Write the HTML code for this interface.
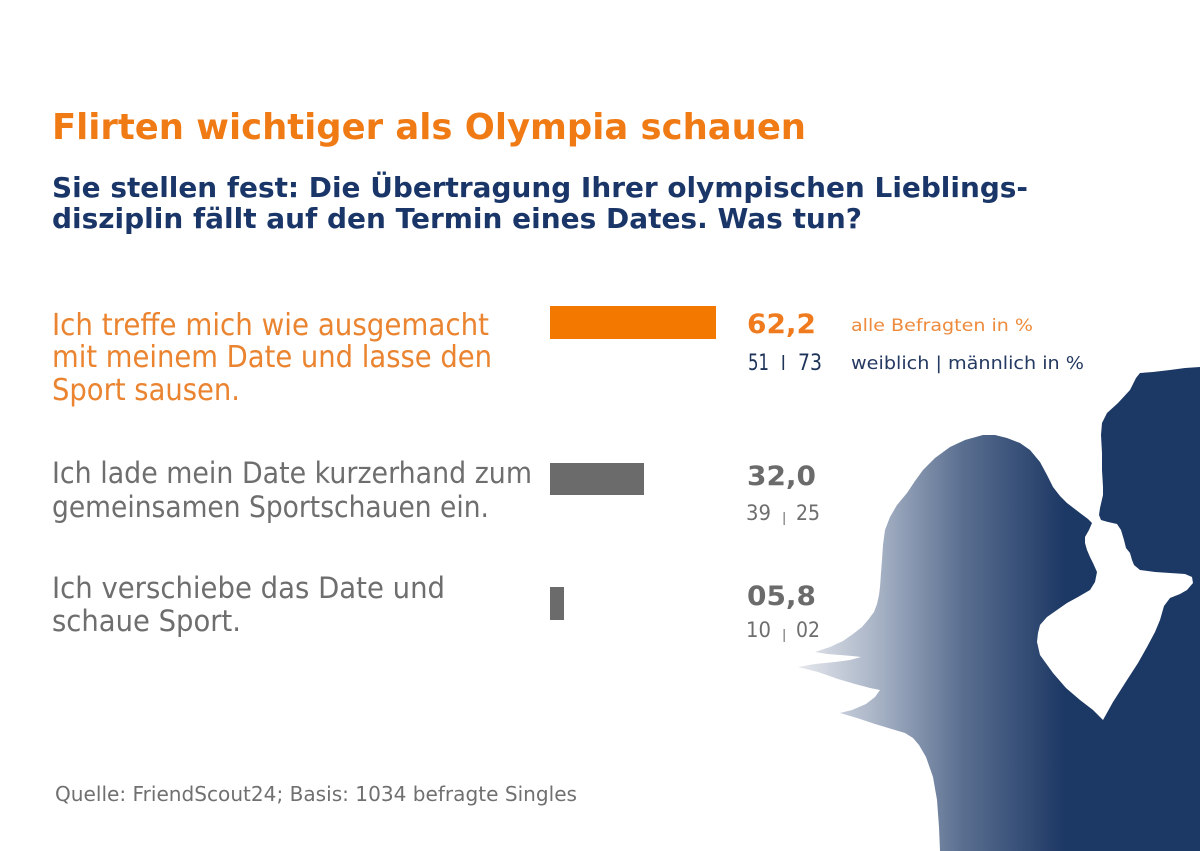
<!DOCTYPE html>
<html>
<head>
<meta charset="utf-8">
<style>
html,body{margin:0;padding:0;background:#fff;}
svg{display:block;}
text{font-family:"DejaVu Sans","Liberation Sans",sans-serif;}
</style>
</head>
<body>
<svg width="1200" height="851" viewBox="0 0 1200 851" xmlns="http://www.w3.org/2000/svg">
<defs>
<linearGradient id="g" gradientUnits="userSpaceOnUse" x1="795" y1="0" x2="1065" y2="0">
<stop offset="0" stop-color="#e8eaef"/>
<stop offset="0.3" stop-color="#a9b4c6"/>
<stop offset="0.62" stop-color="#5a6f90"/>
<stop offset="1" stop-color="#1c3864"/>
</linearGradient>
</defs>
<rect width="1200" height="851" fill="#ffffff"/>

<polygon fill="url(#g)" stroke-linejoin="round" points="983,435 995,435 1007,438 1020,443 1030,450 1040,462 1047,475 1053,487 1060,496 1067,503 1080,513 1088,519 1092,523 1089,530 1085,537 1085,543 1087,550 1090,557 1093,563 1097,572 1095,582 1090,590 1078,597 1067,603 1047,617 1040,625 1038,633 1037,642 1040,655 1053,673 1066,688 1080,700 1093,710 1103,720 1113,702 1127,680 1138,663 1147,647 1155,632 1160,620 1164,606 1170,598 1180,594 1187,590 1193,583 1192,577 1185,574 1170,573 1155,572 1140,570 1134,565 1132,560 1130,553 1126,548 1124,540 1121,530 1117,524 1108,522 1101,520 1099,515 1100,508 1103,495 1103,487 1102,470 1102,453 1101,435 1102,423 1107,413 1118,403 1130,390 1136,378 1140,373 1153,372 1170,370 1185,368 1200,367 1200,851 940,851 939,827 937,800 933,777 926,757 919,745 913,738 905,733 895,730 875,724 857,718 840,713 852,710 866,704 875,697 880,690 870,688 855,684 838,679 818,672 798,667 815,664 835,662 850,660 861,657 852,656 840,655 827,654 815,652 830,647 843,641 853,634 862,627 868,620 874,612 877,604 879,595 880,587 881,573 882,560 883,545 885,530 890,517 897,505 907,493 915,481 923,470 935,458 950,447 965,440"/>

<!-- Title -->
<text x="52" y="139" font-size="36" font-weight="bold" fill="#f07a14" textLength="754" lengthAdjust="spacingAndGlyphs">Flirten wichtiger als Olympia schauen</text>
<text x="52" y="197" font-size="27.5" font-weight="bold" fill="#1a3668" textLength="976" lengthAdjust="spacingAndGlyphs">Sie stellen fest: Die Übertragung Ihrer olympischen Lieblings-</text>
<text x="52" y="228" font-size="27.5" font-weight="bold" fill="#1a3668" textLength="810" lengthAdjust="spacingAndGlyphs">disziplin fällt auf den Termin eines Dates. Was tun?</text>

<!-- Option 1 -->
<text x="52" y="335" font-size="30" fill="#ea8430" textLength="437" lengthAdjust="spacingAndGlyphs">Ich treffe mich wie ausgemacht</text>
<text x="52" y="367" font-size="30" fill="#ea8430" textLength="440" lengthAdjust="spacingAndGlyphs">mit meinem Date und lasse den</text>
<text x="52" y="400" font-size="30" fill="#ea8430" textLength="188" lengthAdjust="spacingAndGlyphs">Sport sausen.</text>

<!-- Option 2 -->
<text x="52" y="483" font-size="29" fill="#6e6e6e" textLength="480" lengthAdjust="spacingAndGlyphs">Ich lade mein Date kurzerhand zum</text>
<text x="52" y="517" font-size="29" fill="#6e6e6e" textLength="437" lengthAdjust="spacingAndGlyphs">gemeinsamen Sportschauen ein.</text>

<!-- Option 3 -->
<text x="52" y="598" font-size="29" fill="#6e6e6e" textLength="393" lengthAdjust="spacingAndGlyphs">Ich verschiebe das Date und</text>
<text x="52" y="631" font-size="29" fill="#6e6e6e" textLength="189" lengthAdjust="spacingAndGlyphs">schaue Sport.</text>

<!-- Bars -->
<rect x="550" y="306" width="166" height="33" fill="#f27800"/>
<rect x="550" y="463" width="94" height="32" fill="#6b6b6b"/>
<rect x="550" y="587" width="14" height="33" fill="#6b6b6b"/>

<!-- Values row 1 -->
<text x="747" y="333" font-size="27" font-weight="bold" fill="#f07a1e" textLength="69" lengthAdjust="spacingAndGlyphs">62,2</text>
<text x="748" y="370" font-size="22" fill="#1d3358" textLength="21" lengthAdjust="spacingAndGlyphs">51</text>
<rect x="782.5" y="355" width="1.6" height="15" fill="#1d3358"/>
<text x="798" y="370" font-size="22" fill="#1d3358" textLength="24" lengthAdjust="spacingAndGlyphs">73</text>
<text x="851" y="331" font-size="17" fill="#ee8a3c" textLength="182" lengthAdjust="spacingAndGlyphs">alle Befragten in %</text>
<text x="851" y="369" font-size="17.5" fill="#253a62" textLength="233" lengthAdjust="spacingAndGlyphs">weiblich | männlich in %</text>

<!-- Values row 2 -->
<text x="747" y="485" font-size="27" font-weight="bold" fill="#6b6b6b" textLength="69" lengthAdjust="spacingAndGlyphs">32,0</text>
<text x="746" y="520" font-size="21" fill="#6e6e6e" textLength="25" lengthAdjust="spacingAndGlyphs">39</text>
<rect x="783.5" y="512" width="1.4" height="13" fill="#8a8a8a"/>
<text x="796" y="520" font-size="21" fill="#6e6e6e" textLength="24" lengthAdjust="spacingAndGlyphs">25</text>

<!-- Values row 3 -->
<text x="747" y="605" font-size="27" font-weight="bold" fill="#6b6b6b" textLength="69" lengthAdjust="spacingAndGlyphs">05,8</text>
<text x="746" y="637" font-size="21" fill="#6e6e6e" textLength="25" lengthAdjust="spacingAndGlyphs">10</text>
<rect x="783.5" y="629" width="1.4" height="13" fill="#8a8a8a"/>
<text x="796" y="637" font-size="21" fill="#6e6e6e" textLength="24" lengthAdjust="spacingAndGlyphs">02</text>

<!-- Footer -->
<text x="55" y="801" font-size="20" fill="#707070" textLength="522" lengthAdjust="spacingAndGlyphs">Quelle: FriendScout24; Basis: 1034 befragte Singles</text>
</svg>
</body>
</html>
